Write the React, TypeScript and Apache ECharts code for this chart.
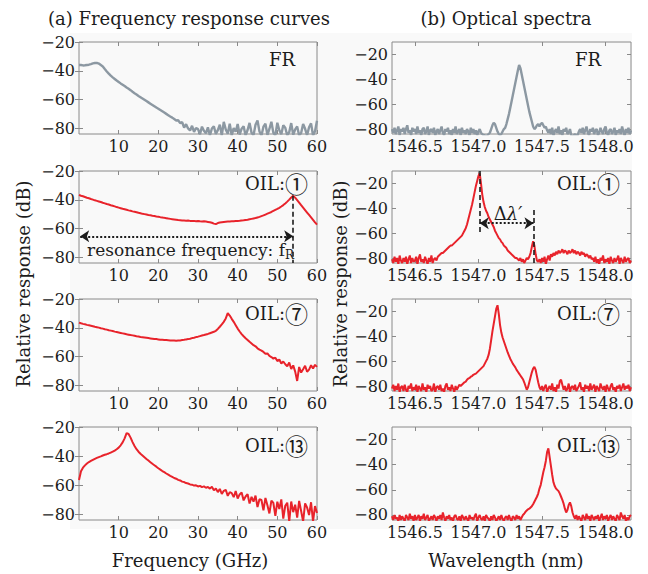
import React, { useEffect, useRef } from 'react';
import * as echarts from 'echarts';

// ---------- sampling grids ----------
const FREQ_START = 0;
const FREQ_STEP = 0.5; // GHz
const WL_START = 1546.32;
const WL_STEP = 0.01; // nm

// ---------- (a) frequency response curves, dB, one value every 0.5 GHz from 0 to 60 GHz ----------
const frFreqDb = [
  -36, -36, -36.3, -36.2, -36, -35.8, -35.4, -34.9, -34.6, -34.5,
  -35, -36, -37, -38.8, -40.5, -42, -43.4, -44.6, -45.7, -46.8,
  -47.8, -48.8, -49.7, -50.6, -51.6, -52.5, -53.5, -54.6, -55.6, -56.5,
  -57.5, -58.4, -59.3, -60.2, -61.1, -62, -62.9, -63.8, -64.7, -65.6,
  -66.4, -67.3, -68.2, -69.1, -70, -70.9, -71.8, -72.6, -73.6, -74.6,
  -74.4, -76.4, -75.8, -79.5, -77.2, -80.1, -81.6, -78.3, -82.5, -79.8,
  -80.6, -84.2, -78.9, -81.7, -83.5, -79.4, -85, -80.2, -78.6, -84,
  -81.3, -77.5, -85, -75.6, -80.9, -83.8, -76.8, -85, -79.9, -82.4,
  -77, -84.4, -80.3, -78.6, -85, -81.2, -76.3, -83.1, -84.8, -77.5,
  -74.6, -82.2, -85, -78.9, -76.9, -84.7, -80.5, -75.5, -83.2, -85,
  -76.2, -81.4, -84.1, -77.9, -79.6, -85, -82.7, -76.4, -84.6, -80.8,
  -78.8, -85, -83.3, -77.1, -80.4, -84.9, -79.3, -76.6, -85, -82.1,
  -74.8,
];
const oil1FreqDb = [
  -36.6, -37.2, -37.6, -38.1, -38.6, -39, -39.5, -39.9, -40.4, -40.8,
  -41.2, -41.6, -42.1, -42.5, -43, -43.3, -43.8, -44.2, -44.6, -45.1,
  -45.5, -45.9, -46.3, -46.6, -47, -47.4, -47.7, -48.1, -48.4, -48.7,
  -49.1, -49.4, -49.8, -50, -50.3, -50.6, -50.8, -51.1, -51.3, -51.6,
  -51.8, -52.1, -52.3, -52.6, -52.8, -53.1, -53.3, -53.5, -53.7, -53.9,
  -54.1, -54.2, -54.4, -54.5, -54.6, -54.5, -54.7, -54.8, -54.7, -54.9,
  -54.8, -55, -55.1, -55, -55.2, -55.4, -55.6, -56, -56.6, -56.9,
  -56.2, -55.8, -55.6, -55.4, -55.3, -55.2, -55.1, -55, -54.9, -54.8,
  -54.7, -54.6, -54.4, -54.3, -54.1, -53.9, -53.6, -53.3, -53, -52.7,
  -52.3, -51.9, -51.4, -50.9, -50.3, -49.7, -49.1, -48.5, -47.8, -47.1,
  -46.4, -45.6, -44.7, -43.7, -42.6, -41.3, -39.9, -38.4, -37.3, -38.6,
  -40.3, -42, -43.8, -45.5, -47.2, -48.9, -50.6, -52.3, -54, -55.7,
  -57.3,
];
const oil7FreqDb = [
  -36.4, -36.9, -37.3, -37.6, -38, -38.3, -38.6, -38.9, -39.3, -39.6,
  -39.9, -40.3, -40.6, -41, -41.3, -41.7, -42, -42.3, -42.7, -43,
  -43.3, -43.6, -43.9, -44.2, -44.5, -44.8, -45.1, -45.3, -45.6, -45.9,
  -46.1, -46.4, -46.6, -46.8, -47, -47.2, -47.4, -47.6, -47.8, -47.9,
  -48.1, -48.3, -48.4, -48.5, -48.6, -48.7, -48.8, -48.9, -48.9, -49.1,
  -48.9, -48.8, -48.6, -48.4, -48.1, -47.9, -47.6, -47.2, -46.9, -46.5,
  -46.2, -45.8, -45.4, -45.1, -44.7, -44.3, -43.8, -43.3, -42.8, -42.1,
  -40.8, -39.3, -37.7, -35.9, -33.5, -29.8, -31.5, -33.8, -35.9, -38.2,
  -40.6, -42.6, -44.4, -45.9, -47.3, -48.5, -49.8, -50.9, -52.1, -52.9,
  -54.3, -55.2, -55.9, -56.8, -58.1, -57.9, -59.6, -60.4, -61.5, -60.8,
  -63.2, -62.1, -64.9, -63.5, -65.4, -66.8, -64.2, -68.7, -66.2, -70.5,
  -77, -67.3, -71.2, -68.9, -66.4, -70.6, -69.1, -66.1, -68.4, -65.8,
  -67.2,
];
const oil13FreqDb = [
  -56.5, -50.5, -48, -46.4, -45.1, -44.1, -43.3, -42.6, -41.9, -41.3,
  -40.7, -40.2, -39.6, -39.1, -38.7, -38.2, -37.6, -37, -36.2, -35.3,
  -34.2, -32.6, -30.6, -27.8, -24.2, -24.8, -27.3, -30.4, -33.1, -35.3,
  -37, -38.4, -39.6, -40.8, -42, -43.1, -44.2, -45.3, -46.3, -47.3,
  -48.4, -49.3, -50.3, -51.1, -52, -52.8, -53.6, -54.3, -55.1, -55.6,
  -56.4, -56.8, -57.6, -57.9, -58.6, -58.9, -59.5, -59.7, -60.3, -60.1,
  -60.9, -60.5, -61.4, -60.9, -61.8, -61.3,
  -62.4, -61.1, -63.5, -62.4, -64.8, -62.6, -66.1, -63.9, -63.2, -67.4,
  -64.8, -65.5, -68.3, -64.1, -69.2, -66.4, -65.1, -70.5, -67.8, -66.3,
  -72.6, -68.1, -71.4, -67.2, -75.1, -69.7, -70.2, -77.4, -68.8, -73.9,
  -79.5, -70.6, -72.3, -81.2, -71.4, -76.5, -69.8, -83, -74.2, -72.1,
  -85, -71.3, -78.6, -73.5, -82.3, -70.9, -77.8, -85, -72.6, -75.4,
  -80.6, -71.8, -85, -74.4, -79.2,
];

// ---------- (b) optical spectra, dB, one value every 0.01 nm from 1546.32 to 1548.20 nm ----------
const frSpecDb = [
  -80, -83, -79, -84, -81, -78, -85, -80, -82, -79,
  -84, -80, -77, -83, -81, -85, -79, -82, -80, -84,
  -78, -83, -81, -85, -80, -79, -84, -82, -78, -85,
  -81, -80, -83, -79, -85, -82, -80, -84, -81, -78,
  -83, -85, -80, -82, -79, -84, -81, -85, -80, -83,
  -78, -84, -82, -80, -85, -79, -83, -81, -84, -80,
  -82, -85, -79, -83, -80, -84, -81, -85, -82, -80,
  -83, -84, -85,
  -85, -86, -85, -84, -83, -80,
  -77, -75, -76, -79, -82,
  -84, -85, -84, -82, -80,
  -79, -76, -72, -68, -63, -58, -53, -48, -43, -38, -33, -28.5, -31, -36, -41, -46, -51,
  -56, -61, -66, -70, -74, -78, -80, -79, -77, -76, -78, -76, -75, -77, -79, -78,
  -81, -83, -80, -84, -79, -85, -82, -80, -83, -78,
  -84, -81, -85, -80, -82, -79, -84, -83, -80, -85,
  -86, -85, -84, -86, -85, -82, -80, -83, -79, -84,
  -81, -78, -83, -85, -80, -82, -79, -84, -81, -80,
  -85, -83, -79, -82, -84, -80, -78, -83, -85, -81,
  -80, -84, -82, -79, -85, -81, -83, -80, -84, -78,
  -82, -85, -80, -83, -79, -84, -81,
];
const oil1SpecDb = [
  -81, -84, -79, -83, -80, -85, -78, -82, -84, -80,
  -83, -79, -85, -81, -78, -84, -80, -83, -82, -79,
  -85, -80, -77, -83, -81, -84, -79, -82, -85, -80,
  -83, -78, -84, -81, -80, -82,
  -79, -78, -77, -76, -76, -75, -74, -73, -72, -71,
  -70, -70, -69, -68, -67, -66, -65, -64, -63, -62,
  -60, -58, -56, -53, -49, -45, -41, -37, -32, -27,
  -22, -18, -14, -12, -20, -29, -35, -39, -42, -44,
  -47, -49, -51, -53, -55, -58, -60, -62, -64, -65,
  -67, -68, -70, -71, -72, -74, -75, -76, -77, -78,
  -79, -80, -80,
  -81, -82, -80, -83, -81, -84, -82, -80, -81,
  -79, -76, -71, -66.5, -70, -77, -82, -83, -81, -84,
  -80, -83, -79, -85, -81, -78, -82,
  -77, -79, -76, -78, -75, -77, -74, -76, -75, -73,
  -76, -74, -75, -77, -74, -76, -75, -73, -76, -74,
  -77, -75, -76, -78, -75, -77, -76, -79, -77, -78,
  -80, -78, -81,
  -80, -83, -79, -84, -81, -85, -80, -82, -78, -84,
  -81, -83, -80, -85, -79, -82, -84, -80, -83, -81,
  -78, -85, -80, -82, -84, -79, -83, -81, -80, -84,
  -82,
];
const oil7SpecDb = [
  -82, -79, -84, -80, -83, -78, -85, -81, -80, -84,
  -79, -83, -85, -80, -82, -78, -84, -81, -83, -79,
  -85, -80, -82, -84, -78, -83, -81, -85, -79, -82,
  -80, -84, -83, -78, -85, -81, -80, -83, -79, -84,
  -82, -85, -80, -78, -83, -81, -84, -79, -82, -85,
  -80, -83, -81, -79, -80,
  -79, -78, -77, -76.5, -75, -74, -73.5, -72.5, -72, -71,
  -70.5, -70, -69, -68, -67, -66, -65, -64, -62, -60,
  -58, -55, -50, -43, -36, -30, -24, -18, -15, -22,
  -31, -37, -41, -44, -47, -50, -53, -55.5, -58, -60,
  -62, -63.5, -65, -67, -68.5, -70, -71.5, -73, -74.5, -77,
  -80, -83, -81, -77, -73, -69, -66, -64.5, -67, -72,
  -77, -81, -83,
  -80, -84, -81, -79, -85, -82, -80, -83, -78, -84,
  -81, -85, -79, -82, -76, -75, -79, -83, -80, -84,
  -82, -78, -85, -81, -80, -83, -79, -84, -82, -80,
  -77, -83, -81, -85, -79, -82, -80, -84, -78, -83,
  -81, -79, -85, -80, -82, -84, -78, -81, -83, -80,
  -85, -79, -82, -84, -80, -78, -83, -81, -85, -80,
  -82, -79, -84, -81, -78, -83, -80, -82, -79, -84,
  -81,
];
const oil13SpecDb = [
  -81, -84, -80, -83, -82, -85, -80, -84, -81, -83,
  -85, -80, -82, -84, -79, -83, -81, -85, -80, -84,
  -82, -80, -85, -81, -83, -79, -84, -82, -80, -85,
  -83, -81, -84, -80, -82, -85, -81, -83, -80, -84,
  -78, -82, -85, -81, -83, -80, -84, -82, -85, -81,
  -80, -83, -84, -81, -85, -80, -82, -84, -81, -83,
  -85, -80, -83, -82, -84, -81, -79, -85, -82, -80,
  -83, -84, -81, -85, -80, -82, -83, -85, -81, -84,
  -80, -82, -85, -83, -81, -84, -80, -83, -85, -82,
  -81, -84, -80, -83, -85, -81, -82, -84, -80, -83,
  -81, -84, -82, -80,
  -79, -77.5, -76.5, -75.5, -75, -74, -73, -71.5, -69.5, -67.5,
  -65.5, -63, -59, -56, -51, -46, -42, -37, -30, -27,
  -34, -41, -48, -54, -57, -59, -60, -61, -63, -65.5,
  -68, -71, -75, -78, -76, -72, -70, -73, -78, -81,
  -83,
  -80, -84, -81, -83, -85, -80, -82, -84, -79, -83,
  -81, -85, -80, -82, -84, -81, -83, -80, -85, -82,
  -79, -84, -81, -83, -80, -85, -82, -80, -84, -81,
  -83, -85, -80, -82, -84, -78, -81, -83, -80, -85,
  -82, -84, -81, -80,
];

// ---------- axes ----------
const freqRange = [0, 60];
const wlRange = [1546.32, 1548.2];
const freqDbRange = [-84, -20];
const specDbRange = [-84, -10];
const freqTicks = [10, 20, 30, 40, 50, 60];
const wlTicks = [1546.5, 1547.0, 1547.5, 1548.0];
const dbTicks = [-80, -60, -40, -20];

// ---------- annotations ----------
const panelTags = ['FR', 'OIL:', 'OIL:', 'OIL:'];
const panelCircled = ['', '①', '⑦', '⑬'];
const resonanceFreq = 54; // GHz, f_R of OIL 1
const resonancePeakDb = -37.3;
const resonanceArrowDb = -65.4;
const mainModeWl = 1547.01;
const sideModeWl = 1547.433;
const mainModeLineEndDb = -61.4;
const sideModeLineStartDb = -41.4;
const deltaArrowDb = -52;

const FONT = '"DejaVu Serif", "Liberation Serif", serif';
const CJK = '"Noto Sans CJK JP", "Noto Sans CJK SC", "DejaVu Sans", sans-serif';
const RED = '#e8232b';
const GREY = '#8c98a2';
const BOX = '#8a8a8a';
const INK = '#1c1c1c';

const rowTop = [42, 171, 299, 427];
const rowHeight = [92, 92, 92, 93];
const colLeft = [79, 392];
const colWidth = [238, 239];

function toPairs(start: number, step: number, values: number[]) {
  return values.map((v, i) => [Number((start + step * i).toFixed(3)), v]);
}

const minusFmt = (v: number) => (v < 0 ? '\u2212' + Math.abs(v) : String(v));

export default function App() {
  const ref = useRef<HTMLDivElement>(null);

  useEffect(() => {
    if (!ref.current) return;
    const chart = echarts.init(ref.current, undefined, { renderer: 'svg' });

    const freqSeries = [frFreqDb, oil1FreqDb, oil7FreqDb, oil13FreqDb];
    const specSeries = [frSpecDb, oil1SpecDb, oil7SpecDb, oil13SpecDb];

    const grid: any[] = [];
    const xAxis: any[] = [];
    const yAxis: any[] = [];
    const series: any[] = [];

    for (let c = 0; c < 2; c++) {
      for (let r = 0; r < 4; r++) {
        const g = c * 4 + r;
        grid.push({
          left: colLeft[c],
          top: rowTop[r],
          width: colWidth[c],
          height: rowHeight[r],
          show: true,
          borderColor: BOX,
          borderWidth: 1,
          backgroundColor: '#f9f9f9',
        });
        const xr = c === 0 ? freqRange : wlRange;
        const yr = c === 0 ? freqDbRange : specDbRange;
        const xt = c === 0 ? freqTicks : wlTicks;
        const tickStyle = { lineStyle: { color: BOX, width: 1 } };
        xAxis.push({
          gridIndex: g,
          type: 'value',
          position: 'bottom',
          min: xr[0],
          max: xr[1],
          axisLine: { show: false },
          splitLine: { show: false },
          axisTick: { show: true, inside: true, length: 4, customValues: xt, ...tickStyle },
          axisLabel: {
            show: true,
            customValues: xt,
            margin: 4,
            fontFamily: FONT,
            fontSize: 16,
            color: INK,
            formatter: (v: number) => (c === 0 ? String(v) : v.toFixed(1)),
          },
        });
        xAxis.push({
          gridIndex: g,
          type: 'value',
          position: 'top',
          min: xr[0],
          max: xr[1],
          axisLine: { show: false },
          splitLine: { show: false },
          axisTick: { show: true, inside: true, length: 4, customValues: xt, ...tickStyle },
          axisLabel: { show: false },
        });
        yAxis.push({
          gridIndex: g,
          type: 'value',
          position: 'left',
          min: yr[0],
          max: yr[1],
          axisLine: { show: false },
          splitLine: { show: false },
          axisTick: { show: true, inside: true, length: 4, customValues: dbTicks, ...tickStyle },
          axisLabel: {
            show: true,
            customValues: dbTicks,
            margin: 4,
            fontFamily: FONT,
            fontSize: 16,
            color: INK,
            formatter: minusFmt,
          },
        });
        yAxis.push({
          gridIndex: g,
          type: 'value',
          position: 'right',
          min: yr[0],
          max: yr[1],
          axisLine: { show: false },
          splitLine: { show: false },
          axisTick: { show: true, inside: true, length: 4, customValues: dbTicks, ...tickStyle },
          axisLabel: { show: false },
        });

        const values = c === 0 ? freqSeries[r] : specSeries[r];
        const data = c === 0 ? toPairs(FREQ_START, FREQ_STEP, values) : toPairs(WL_START, WL_STEP, values);
        const s: any = {
          type: 'line',
          xAxisIndex: g * 2,
          yAxisIndex: g * 2,
          data,
          showSymbol: false,
          symbol: 'none',
          clip: true,
          lineStyle: { color: r === 0 ? GREY : RED, width: r === 0 ? 2.4 : 2 },
          z: 3,
        };
        if (c === 0 && r === 1) {
          s.markLine = {
            silent: true,
            animation: false,
            label: { show: false },
            data: [
              [
                { coord: [freqRange[0] + 0.3, resonanceArrowDb], symbol: 'arrow', symbolSize: 9, lineStyle: { type: [2, 2], width: 2, color: INK } },
                { coord: [resonanceFreq, resonanceArrowDb], symbol: 'arrow', symbolSize: 9 },
              ],
              [
                { coord: [resonanceFreq, resonancePeakDb], symbol: 'none', lineStyle: { type: [5, 3], width: 1.6, color: INK } },
                { coord: [resonanceFreq, freqDbRange[0]], symbol: 'none' },
              ],
            ],
          };
        }
        if (c === 1 && r === 1) {
          s.markLine = {
            silent: true,
            animation: false,
            label: { show: false },
            data: [
              [
                { coord: [mainModeWl, specDbRange[1]], symbol: 'none', lineStyle: { type: [5, 3], width: 1.6, color: INK } },
                { coord: [mainModeWl, mainModeLineEndDb], symbol: 'none' },
              ],
              [
                { coord: [sideModeWl, sideModeLineStartDb], symbol: 'none', lineStyle: { type: [5, 3], width: 1.6, color: INK } },
                { coord: [sideModeWl, specDbRange[0]], symbol: 'none' },
              ],
              [
                { coord: [mainModeWl, deltaArrowDb], symbol: 'arrow', symbolSize: 9, lineStyle: { type: [2, 2], width: 2, color: INK } },
                { coord: [sideModeWl, deltaArrowDb], symbol: 'arrow', symbolSize: 9 },
              ],
            ],
          };
        }
        series.push(s);
      }
    }

    const tagRight = [308, 620];
    const tagY = [59, 183, 313, 445];
    const graphic: any[] = [
      { type: 'rect', z: -10, silent: true, shape: { x: 70, y: 33, width: 562, height: 496 }, style: { fill: '#f9f9f9' } },
      { type: 'text', x: 189, y: 18, style: { text: '(a) Frequency response curves', fontFamily: FONT, fontSize: 18, fill: INK, align: 'center', verticalAlign: 'middle' } },
      { type: 'text', x: 506, y: 18, style: { text: '(b) Optical spectra', fontFamily: FONT, fontSize: 18, fill: INK, align: 'center', verticalAlign: 'middle' } },
      { type: 'text', x: 23, y: 284, rotation: Math.PI / 2, style: { text: 'Relative response (dB)', fontFamily: FONT, fontSize: 18, fill: INK, align: 'center', verticalAlign: 'middle' } },
      { type: 'text', x: 340, y: 284, rotation: Math.PI / 2, style: { text: 'Relative response (dB)', fontFamily: FONT, fontSize: 18, fill: INK, align: 'center', verticalAlign: 'middle' } },
      { type: 'text', x: 190, y: 560, style: { text: 'Frequency (GHz)', fontFamily: FONT, fontSize: 18, fill: INK, align: 'center', verticalAlign: 'middle' } },
      { type: 'text', x: 506, y: 560, style: { text: 'Wavelength (nm)', fontFamily: FONT, fontSize: 18, fill: INK, align: 'center', verticalAlign: 'middle' } },
      {
        type: 'text', x: 87, y: 250,
        style: {
          text: '{n|resonance frequency: f}{s|R}',
          align: 'left', verticalAlign: 'middle',
          rich: {
            n: { fontFamily: FONT, fontSize: 17, fill: INK, lineHeight: 20 },
            s: { fontFamily: FONT, fontSize: 12, fill: INK, lineHeight: 20, padding: [9, 0, 0, 0] },
          },
        },
      },
      {
        type: 'text', x: 508, y: 213,
        style: {
          text: '{d|Δ}{l|λ′}',
          align: 'center', verticalAlign: 'middle',
          rich: {
            d: { fontFamily: FONT, fontSize: 18, fill: INK },
            l: { fontFamily: FONT, fontSize: 18, fill: INK, fontStyle: 'italic' },
          },
        },
      },
    ];
    for (let c = 0; c < 2; c++) {
      for (let r = 0; r < 4; r++) {
        const text = r === 0 ? 'FR' : `{a|${panelTags[r]}}{b|${panelCircled[r]}}`;
        graphic.push({
          type: 'text',
          x: r === 0 ? (c === 0 ? 295 : 601) : tagRight[c],
          y: tagY[r],
          style: {
            text,
            fontFamily: FONT,
            fontSize: 18,
            fill: INK,
            align: 'right',
            verticalAlign: 'middle',
            rich: {
              a: { fontFamily: FONT, fontSize: 18, fill: INK, lineHeight: 24, verticalAlign: 'middle' },
              b: { fontFamily: CJK, fontSize: 23, fill: INK, lineHeight: 24, verticalAlign: 'middle' },
            },
          },
        });
      }
    }

    chart.setOption({
      animation: false,
      backgroundColor: '#ffffff',
      grid,
      xAxis,
      yAxis,
      series,
      graphic,
    });

    return () => chart.dispose();
  }, []);

  return <div ref={ref} style={{ position: 'fixed', left: 0, top: 0, width: 648, height: 574 }} />;
}
